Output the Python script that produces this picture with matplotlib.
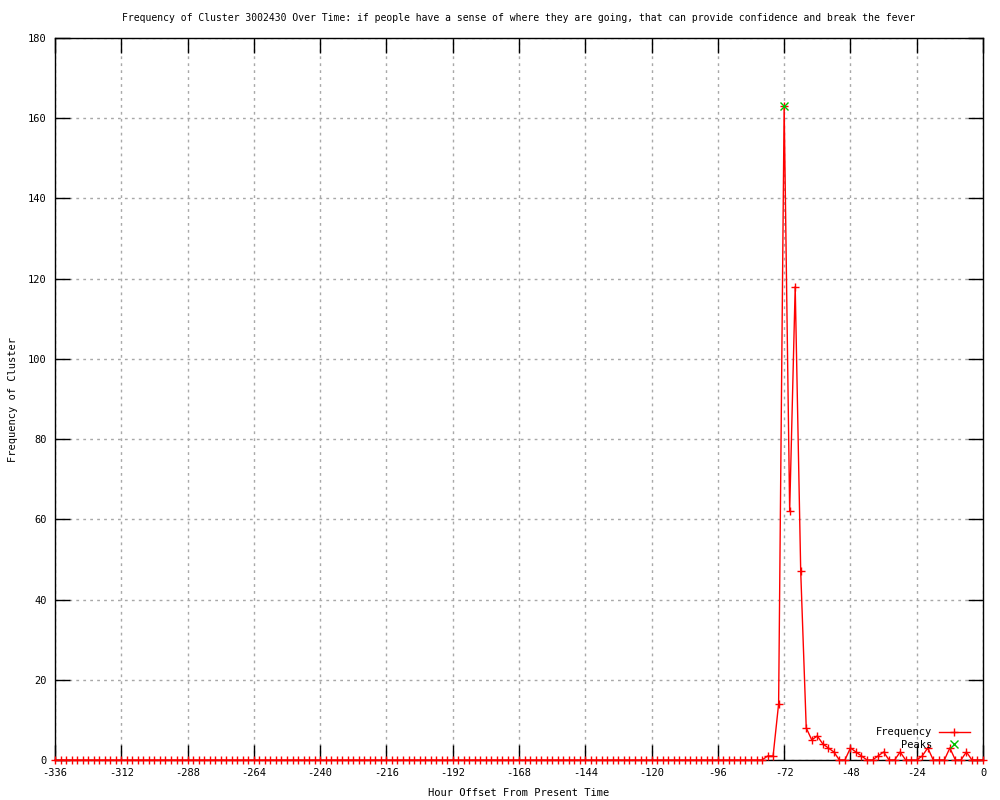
import matplotlib
matplotlib.use('Agg')
import matplotlib.pyplot as plt

plt.rcParams['font.family'] = 'DejaVu Sans Mono'
plt.rcParams['font.size'] = 7
plt.rcParams['axes.unicode_minus'] = False

# hourly bins, every 2 hours from -336 to 0
hours = list(range(-336, 1, 2))

# -336 .. -80 : all zero (129 bins)
quiet = [
    0, 0, 0, 0, 0, 0, 0, 0, 0, 0, 0, 0, 0, 0, 0, 0, 0, 0, 0, 0,
    0, 0, 0, 0, 0, 0, 0, 0, 0, 0, 0, 0, 0, 0, 0, 0, 0, 0, 0, 0,
    0, 0, 0, 0, 0, 0, 0, 0, 0, 0, 0, 0, 0, 0, 0, 0, 0, 0, 0, 0,
    0, 0, 0, 0, 0, 0, 0, 0, 0, 0, 0, 0, 0, 0, 0, 0, 0, 0, 0, 0,
    0, 0, 0, 0, 0, 0, 0, 0, 0, 0, 0, 0, 0, 0, 0, 0, 0, 0, 0, 0,
    0, 0, 0, 0, 0, 0, 0, 0, 0, 0, 0, 0, 0, 0, 0, 0, 0, 0, 0, 0,
    0, 0, 0, 0, 0, 0, 0, 0, 0,
]
# -78 .. 0
active = [
    1, 1, 14, 163, 62, 118, 47, 8, 5, 6, 4, 3, 2, 0, 0,
    3, 2, 1, 0, 0, 1, 2, 0, 0, 2, 0, 0, 0, 1, 3,
    0, 0, 0, 3, 0, 0, 2, 0, 0, 0,
]
frequency = quiet + active

peak_hours = [-72]
peak_values = [163]

fig = plt.figure(figsize=(10, 8), dpi=100)
ax = fig.add_axes([0.055, 0.05, 0.928, 0.9025])

ax.plot(hours, frequency, color='red', lw=1, marker='+', ms=6, mew=1,
        label='Frequency', clip_on=False, zorder=3)
ax.plot(peak_hours, peak_values, ls='none', marker='x', color='#00c000',
        ms=6, mew=1, label='    Peaks', clip_on=False, zorder=4)

ax.set_xlim(-336, 0)
ax.set_ylim(0, 180)
ax.set_xticks(range(-336, 1, 24))
ax.set_yticks(range(0, 181, 20))
ax.tick_params(direction='in', length=11, width=1, top=True, right=True,
               pad=6, labelsize=7.5)
ax.grid(True, color='#a8a8a8', ls=(0, (2, 3)), lw=1)
ax.set_axisbelow(True)
for s in ax.spines.values():
    s.set_linewidth(1)

ax.set_title('Frequency of Cluster 3002430 Over Time: if people have a sense of where they are going, '
             'that can provide confidence and break the fever', fontsize=7, pad=12)
ax.set_xlabel('Hour Offset From Present Time', labelpad=7, fontsize=7.5)
ax.set_ylabel('Frequency of Cluster', labelpad=7, fontsize=7.5)

ax.legend(loc='lower right', bbox_to_anchor=(0.986, 0.014), frameon=False,
          markerfirst=False, handlelength=3, handletextpad=0.6,
          labelspacing=0.25, borderpad=0, borderaxespad=0, numpoints=1,
          fontsize=7.5)

fig.savefig('out.png', dpi=100)
